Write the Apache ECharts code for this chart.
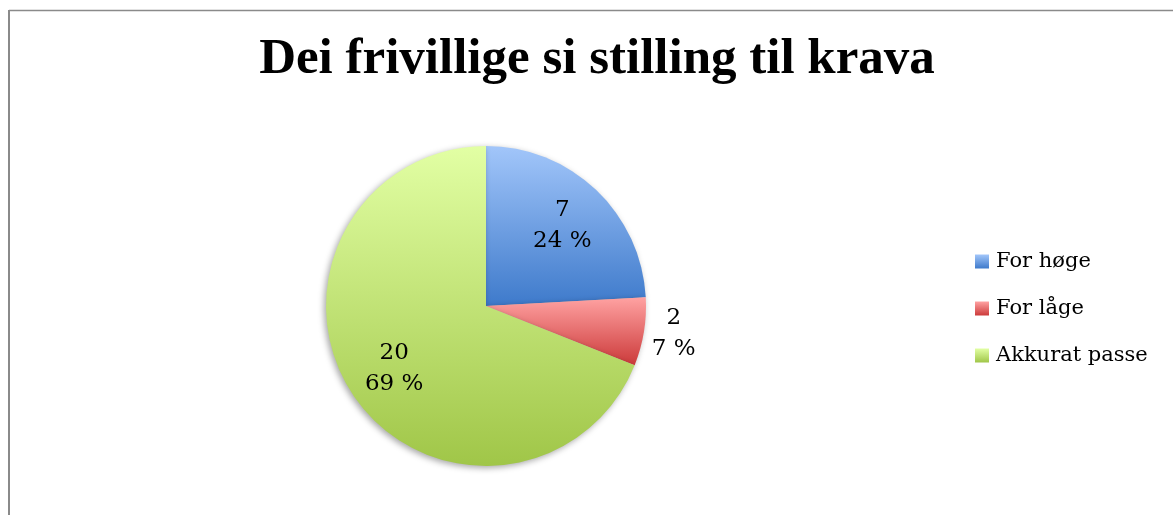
<!DOCTYPE html>
<html>
<head>
<meta charset="utf-8">
<script src="https://cdn.jsdelivr.net/npm/echarts@6/dist/echarts.min.js"></script>
<style>html,body{margin:0;padding:0;background:#fff}#c{width:1173px;height:515px}</style>
</head>
<body>
<div id="c"></div>
<script>
const titleText = 'Dei frivillige si stilling til krava';
const categories = ['For høge', 'For låge', 'Akkurat passe'];
const values = [7, 2, 20];
const topColors = ['#a2c6fa', '#ffa2a2', '#e2ffa4'];
const bottomColors = ['#3e7acb', '#cc3a3a', '#a0c648'];

const chart = echarts.init(document.getElementById('c'));
const grad = (i) => new echarts.graphic.LinearGradient(0, 0, 0, 1, [
  { offset: 0, color: topColors[i] }, { offset: 1, color: bottomColors[i] }
]);
const fmt = (p) => '{t|' + p.value + '}\n{t|' + Math.round(p.percent) + ' %}';
const rich = { t: { fontFamily: 'DejaVu Serif', fontSize: 23, color: '#000', lineHeight: 31, width: 64, align: 'center' } };

const mainData = categories.map((name, i) => ({
  name, value: values[i],
  itemStyle: { color: grad(i) },
  label: i === 1 ? { show: true, position: 'outside', formatter: fmt, rich, distanceToLabelLine: -12 } : { show: false }
}));
const overlayData = categories.map((name, i) => ({
  name, value: values[i],
  label: i === 1 ? { show: false } : { show: true, position: 'inside', formatter: fmt, rich }
}));

chart.setOption({
  animation: false,
  title: {
    text: titleText, left: 592, top: 29, textAlign: 'center',
    textStyle: { fontFamily: 'Liberation Serif', fontWeight: 'bold', fontSize: 51, color: '#000' }
  },
  legend: {
    orient: 'vertical', left: 970, top: 246,
    itemWidth: 14, itemHeight: 14, itemGap: 26,
    icon: 'rect',
    textStyle: { fontFamily: 'DejaVu Serif', fontSize: 21, color: '#000', lineHeight: 21, padding: [0, 0, 0, 2] },
    data: categories
  },
  graphic: [
    { type: 'line', shape: { x1: 9, y1: 10.5, x2: 1180, y2: 10.5 }, style: { stroke: '#8a8a8a', lineWidth: 1.5 }, silent: true },
    { type: 'line', shape: { x1: 9, y1: 10, x2: 9, y2: 520 }, style: { stroke: '#8a8a8a', lineWidth: 2 }, silent: true }
  ],
  series: [
    {
      type: 'pie', center: [486, 306], radius: [0, 160], startAngle: 90, clockwise: true,
      avoidLabelOverlap: false,
      itemStyle: { borderWidth: 0, shadowBlur: 6, shadowOffsetX: -2, shadowOffsetY: 2, shadowColor: 'rgba(0,0,0,0.35)' },
      labelLine: { show: false, length: 10, length2: 0 },
      emphasis: { disabled: true },
      data: mainData
    },
    {
      type: 'pie', center: [486, 306], radius: [0, 216], startAngle: 90, clockwise: true,
      silent: true, legendHoverLink: false,
      itemStyle: { color: 'rgba(0,0,0,0)' },
      labelLine: { show: false },
      emphasis: { disabled: true },
      data: overlayData
    }
  ]
});
</script>
</body>
</html>
